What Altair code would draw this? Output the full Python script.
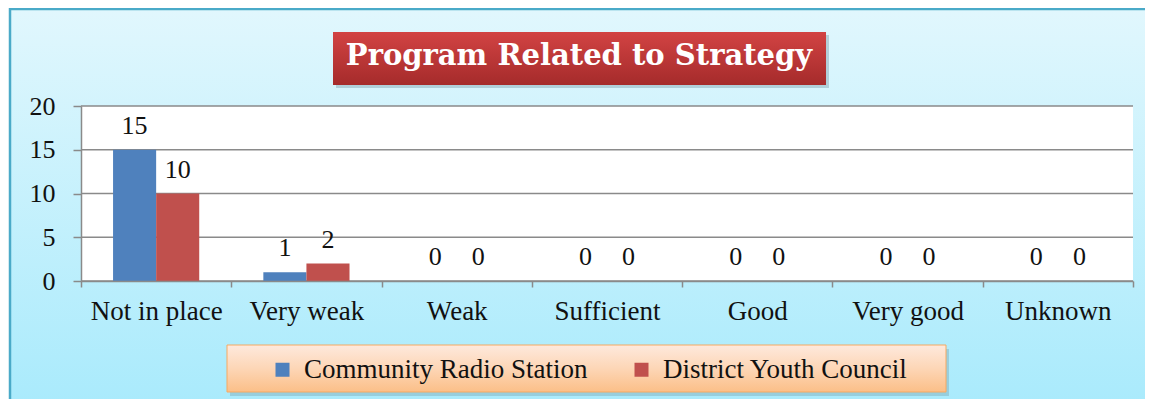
import altair as alt
import pandas as pd

categories = ["Not in place", "Very weak", "Weak", "Sufficient", "Good", "Very good", "Unknown"]
series = ["Community Radio Station", "District Youth Council"]
radio = [15, 1, 0, 0, 0, 0, 0]
youth = [10, 2, 0, 0, 0, 0, 0]
y_ticks = [0, 5, 10, 15, 20]
title_text = "Program Related to Strategy"
colors = ["#4f81bd", "#c0504d"]

W, H = 1052, 175
SERIF = "Liberation Serif"

rows = []
for c, a, b in zip(categories, radio, youth):
    rows.append({"category": c, "series": series[0], "value": a})
    rows.append({"category": c, "series": series[1], "value": b})
df = pd.DataFrame(rows)
one = pd.DataFrame({"k": [0]})
grid_df = pd.DataFrame({"value": y_ticks})


def grad(stops):
    return alt.Gradient(
        gradient="linear", x1=0, x2=0, y1=0, y2=1,
        stops=[alt.GradientStop(color=c, offset=o) for o, c in stops],
    )


x_enc = alt.X(
    "category:N", sort=categories,
    scale=alt.Scale(paddingInner=0, paddingOuter=0),
    axis=alt.Axis(
        title=None, labelAngle=0, tickBand="extent", tickSize=6,
        domainColor="#8a8a8a", tickColor="#8a8a8a", domainWidth=1.5, tickWidth=1.5,
        labelFont=SERIF, labelFontSize=27, labelColor="#111", labelPadding=11,
        labelLimit=300, zindex=1, grid=False,
    ),
)
xo_enc = alt.XOffset("series:N", sort=series, scale=alt.Scale(paddingInner=0, paddingOuter=0.744))
y_axis = alt.Axis(
    title=None, values=y_ticks, grid=False, tickSize=8,
    domainColor="#8a8a8a", tickColor="#8a8a8a", domainWidth=1.5, tickWidth=1.5,
    labelFont=SERIF, labelFontSize=26, labelColor="#111", labelPadding=18, zindex=1,
)
y_enc = alt.Y("value:Q", scale=alt.Scale(domain=[0, 20]), axis=y_axis)

bg = alt.Chart(one).mark_rect(
    fill=grad([(0, "#e1f7fd"), (1, "#a7eafc")]), stroke="#4aaac8", strokeWidth=2.5
).encode(x=alt.value(-71), x2=alt.value(W + 40), y=alt.value(-97), y2=alt.value(H + 140))

plot_bg = alt.Chart(one).mark_rect(fill="white").encode(
    x=alt.value(0), x2=alt.value(W), y=alt.value(0), y2=alt.value(H)
)

grid = alt.Chart(grid_df).mark_rule(color="#8a8a8a", strokeWidth=1.5).encode(
    y=y_enc, x=alt.value(0), x2=alt.value(W),
)

bars = alt.Chart(df).mark_bar().encode(
    x=x_enc, xOffset=xo_enc, y=y_enc,
    color=alt.Color(
        "series:N", sort=series,
        scale=alt.Scale(domain=series, range=colors),
        legend=alt.Legend(
            title=None, orient="none", legendX=188, legendY=250, direction="horizontal",
            symbolType="square", symbolSize=196, symbolStrokeWidth=0, symbolOpacity=1,
            labelFont=SERIF, labelFontSize=27, labelColor="#111", labelOffset=8,
            labelLimit=500, columnPadding=40, padding=0, zindex=2,
        ),
    ),
)

labels = alt.Chart(df).mark_text(
    font=SERIF, fontSize=26, color="#111", baseline="alphabetic", dy=-16
).encode(x=x_enc, xOffset=xo_enc, y=y_enc, text="value:Q")

title_shadow = alt.Chart(one).mark_rect(fill="#6a8a96", opacity=0.35).encode(
    x=alt.value(255), x2=alt.value(748), y=alt.value(-71), y2=alt.value(-18)
)
title_box = alt.Chart(one).mark_rect(
    fill=grad([(0, "#d24343"), (1, "#a52b2b")])
).encode(x=alt.value(252), x2=alt.value(745), y=alt.value(-74), y2=alt.value(-21))
title = alt.Chart(one).mark_text(
    text=title_text, font="DejaVu Serif", fontWeight="bold", fontSize=29,
    color="white", align="center", baseline="alphabetic",
).encode(x=alt.value(498), y=alt.value(-41))

legend_shadow = alt.Chart(one).mark_rect(fill="#6a8a96", opacity=0.3).encode(
    x=alt.value(149), x2=alt.value(868), y=alt.value(243), y2=alt.value(290)
)
legend_box = alt.Chart(one).mark_rect(
    fill=grad([(0, "#fee9dd"), (0.5, "#fdd6b6"), (1, "#fbbf88")]),
    stroke="#f5a963", strokeWidth=1,
).encode(x=alt.value(146), x2=alt.value(865), y=alt.value(239), y2=alt.value(286))

chart = alt.layer(
    bg, plot_bg, grid, bars, labels, title_shadow, title_box, title, legend_shadow, legend_box
).properties(
    width=W, height=H,
    autosize=alt.AutoSizeParams(type="none"),
    padding={"left": 73, "top": 98, "right": 12, "bottom": 118},
).configure_view(stroke=None)

chart.save("out.html", embed_options={"renderer": "svg", "actions": False})
